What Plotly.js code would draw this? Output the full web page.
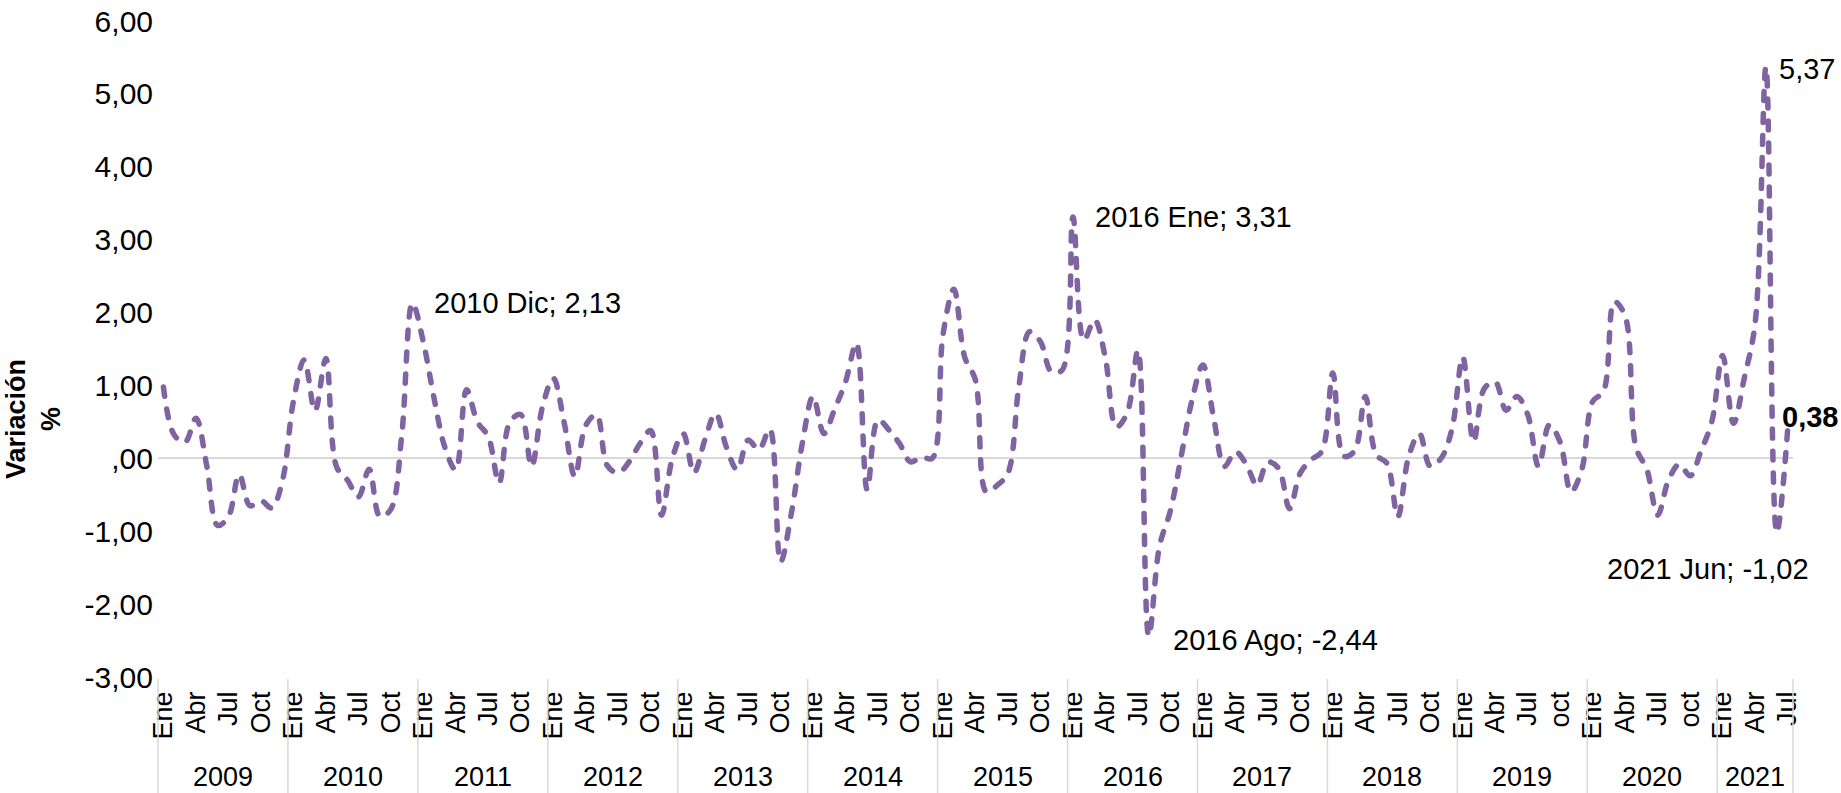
<!DOCTYPE html>
<html>
<head>
<meta charset="utf-8">
<script src="https://cdn.plot.ly/plotly-3.0.1.min.js"></script>
<style>
  html, body { margin: 0; padding: 0; background: #fff; }
  #chart { width: 1841px; height: 793px; }
  .scatterlayer .js-line { stroke-linecap: round; }
</style>
</head>
<body>
<div id="chart"></div>
<script>
// ---- Data ----
const years = [2009, 2010, 2011, 2012, 2013, 2014, 2015, 2016, 2017, 2018, 2019, 2020, 2021];
const monthNames = ['Ene','Feb','Mar','Abr','May','Jun','Jul','Ago','Sep','Oct','Nov','Dic'];

const v2009 = [0.98, 0.32, 0.22, 0.55, -0.10, -0.92, -0.80, -0.22, -0.65, -0.58, -0.68, -0.30];
const v2010 = [0.78, 1.35, 0.65, 1.37, -0.12, -0.30, -0.53, -0.15, -0.80, -0.70, 0.30, 2.13];
const v2011 = [1.60, 0.82, 0.15, -0.16, 0.94, 0.50, 0.30, -0.34, 0.50, 0.60, -0.11, 0.70];
const v2012 = [1.10, 0.50, -0.25, 0.45, 0.60, -0.10, -0.20, -0.05, 0.20, 0.38, -0.78, 0.00];
const v2013 = [0.34, -0.20, 0.25, 0.62, 0.15, -0.16, 0.25, 0.12, 0.40, -1.42, -0.75, 0.20];
const v2014 = [0.85, 0.34, 0.68, 1.05, 1.58, -0.43, 0.53, 0.39, 0.20, -0.05, 0.02, 0.00];
const v2015 = [1.70, 2.32, 1.39, 1.07, -0.46, -0.37, -0.20, 0.98, 1.74, 1.60, 1.19, 1.21];
const v2016 = [3.31, 1.62, 1.90, 1.37, 0.43, 0.62, 1.48, -2.44, -1.20, -0.72, 0.03, 0.80];
const v2017 = [1.28, 0.55, -0.11, 0.09, -0.08, -0.37, -0.05, -0.14, -0.69, -0.20, -0.02, 0.10];
const v2018 = [1.17, 0.03, 0.10, 0.85, 0.05, -0.07, -0.80, 0.02, 0.34, -0.11, 0.00, 0.40];
const v2019 = [1.39, 0.23, 0.96, 1.05, 0.66, 0.85, 0.60, -0.11, 0.46, 0.22, -0.46, -0.15];
const v2020 = [0.78, 0.92, 2.15, 1.95, 0.15, -0.15, -0.78, -0.30, -0.08, -0.24, 0.10, 0.50];
const v2021 = [1.41, 0.48, 1.10, 1.85, 5.37, -1.02, 0.38];

const yearValues = [v2009, v2010, v2011, v2012, v2013, v2014, v2015, v2016, v2017, v2018, v2019, v2020, v2021];

const qStd = ['Ene','Abr','Jul','Oct'];
const qLower = ['Ene','Abr','Jul','oct'];
const q2021 = ['Ene','Abr','Jul'];
const quarterLabels = [qStd, qStd, qStd, qStd, qStd, qStd, qStd, qStd, qStd, qStd, qLower, qLower, q2021];

const yTickVals = [-3, -2, -1, 0, 1, 2, 3, 4, 5, 6];
const yTickText = ['-3,00','-2,00','-1,00',',00','1,00','2,00','3,00','4,00','5,00','6,00'];

// labelled points: [year, monthIndex, style]
const labelled = [
  [2010, 11, 'full'],
  [2016, 0, 'full'],
  [2016, 7, 'full'],
  [2021, 4, 'value'],
  [2021, 5, 'full'],
  [2021, 6, 'bold']
];

// ---- Build ----
const xs = [], ys = [], tickvals = [], ticktext = [];
const yearStart = [];
let idx = 0;
yearValues.forEach((arr, yi) => {
  yearStart.push(idx);
  arr.forEach((v, m) => {
    xs.push(idx); ys.push(v);
    const qi = m / 3;
    if (m % 3 === 0 && quarterLabels[yi][qi] !== undefined) {
      tickvals.push(idx); ticktext.push(quarterLabels[yi][qi]);
    }
    idx++;
  });
});
const N = idx;
const fmt = v => v.toFixed(2).replace('.', ',');

const FONT = 'Liberation Sans, Arial, sans-serif';
const annotations = [];
const shapes = [];

// Year labels and separators
years.forEach((y, yi) => {
  const s = yearStart[yi];
  const n = yearValues[yi].length;
  annotations.push({
    xref: 'x', yref: 'paper', x: s + (n - 1) / 2, y: -0.152,
    text: String(y), showarrow: false, xanchor: 'center', yanchor: 'middle',
    font: { family: FONT, size: 27, color: '#000' }
  });
  shapes.push({
    type: 'line', xref: 'paper', yref: 'paper',
    x0: s / N, x1: s / N, y0: -0.003, y1: -0.18,
    line: { color: '#d9d9d9', width: 1.5 }
  });
});
shapes.push({
  type: 'line', xref: 'paper', yref: 'paper',
  x0: 1, x1: 1, y0: -0.003, y1: -0.18,
  line: { color: '#d9d9d9', width: 1.5 }
});

// Data labels
labelled.forEach(([yr, m, style]) => {
  const yi = years.indexOf(yr);
  const xi = yearStart[yi] + m;
  const v = yearValues[yi][m];
  const full = yr + ' ' + monthNames[m] + '; ' + fmt(v);
  let a = { xref: 'x', yref: 'y', x: xi, y: v, showarrow: false,
            font: { family: FONT, size: 29, color: '#000' } };
  if (style === 'full' && v > 0) {
    Object.assign(a, { text: full, xanchor: 'left', yanchor: 'middle', xshift: 20, yshift: 0 });
  } else if (style === 'full' && yr === 2016) {
    Object.assign(a, { text: full, xanchor: 'left', yanchor: 'middle', xshift: 22, yshift: -4 });
  } else if (style === 'full') {
    Object.assign(a, { text: full, xanchor: 'right', yanchor: 'top', xshift: 34, yshift: -18 });
  } else if (style === 'value') {
    Object.assign(a, { text: fmt(v), xanchor: 'left', yanchor: 'middle', xshift: 11, yshift: -2 });
  } else {
    Object.assign(a, { text: '<b>' + fmt(v) + '</b>', xanchor: 'left', yanchor: 'middle', xshift: -8, yshift: 14 });
  }
  annotations.push(a);
});

// Y axis title
annotations.push({
  xref: 'paper', yref: 'paper', x: -0.0765, y: 0.393,
  text: '<b>Variación</b><br><b>%</b>', textangle: -90, showarrow: false,
  xanchor: 'center', yanchor: 'middle',
  font: { family: FONT, size: 27, color: '#000' }
});

const trace = {
  type: 'scatter', mode: 'lines', x: xs, y: ys,
  line: { color: '#8064A2', width: 5.5, shape: 'spline', smoothing: 1, dash: '9px,13px' },
  hoverinfo: 'skip'
};

const layout = {
  width: 1841, height: 793,
  margin: { l: 158, r: 48, t: 21, b: 116 },
  paper_bgcolor: '#fff', plot_bgcolor: '#fff',
  showlegend: false,
  xaxis: {
    range: [-0.5, N - 0.5], tickvals: tickvals, ticktext: ticktext,
    tickangle: -90, showgrid: false, zeroline: false, showline: false, ticks: '',
    ticklabelstandoff: 8,
    tickfont: { family: FONT, size: 27, color: '#000' }
  },
  yaxis: {
    range: [-3, 6], tickvals: yTickVals, ticktext: yTickText,
    showgrid: false, zeroline: true, zerolinecolor: '#d9d9d9', zerolinewidth: 2,
    showline: false, ticks: '', ticklabelstandoff: 4,
    tickfont: { family: FONT, size: 30, color: '#000' }
  },
  annotations: annotations,
  shapes: shapes
};

Plotly.newPlot('chart', [trace], layout, { staticPlot: true, displayModeBar: false });
</script>
</body>
</html>
